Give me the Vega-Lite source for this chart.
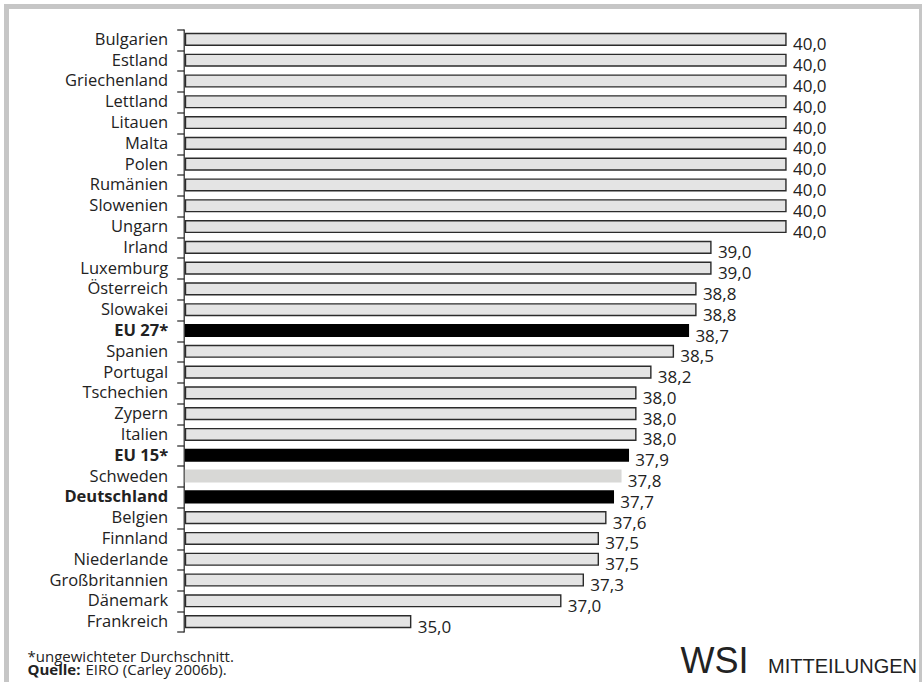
{
  "$schema": "https://vega.github.io/schema/vega-lite/v6.json",
  "width": 915,
  "height": 679.5,
  "autosize": {"type": "none"},
  "padding": {"left": 6.5, "top": 6.5, "right": 0, "bottom": 0},
  "background": "white",
  "config": {
    "font": "Open Sans",
    "view": {"stroke": "#c6c6c6", "strokeWidth": 5},
    "locale": {"number": {"decimal": ",", "thousands": ".", "grouping": [3], "currency": ["", " €"]}}
  },
  "title": {
    "text": "MITTEILUNGEN",
    "orient": "top",
    "anchor": "end",
    "frame": "group",
    "offset": 0,
    "baseline": "alphabetic",
    "dy": 686,
    "dx": -4.5,
    "font": "Liberation Sans",
    "fontSize": 20,
    "fontWeight": "normal",
    "color": "#222222"
  },
  "data": {
    "values": [
      {"land": "Bulgarien", "stunden": 40.0, "gruppe": "Land"},
      {"land": "Estland", "stunden": 40.0, "gruppe": "Land"},
      {"land": "Griechenland", "stunden": 40.0, "gruppe": "Land"},
      {"land": "Lettland", "stunden": 40.0, "gruppe": "Land"},
      {"land": "Litauen", "stunden": 40.0, "gruppe": "Land"},
      {"land": "Malta", "stunden": 40.0, "gruppe": "Land"},
      {"land": "Polen", "stunden": 40.0, "gruppe": "Land"},
      {"land": "Rumänien", "stunden": 40.0, "gruppe": "Land"},
      {"land": "Slowenien", "stunden": 40.0, "gruppe": "Land"},
      {"land": "Ungarn", "stunden": 40.0, "gruppe": "Land"},
      {"land": "Irland", "stunden": 39.0, "gruppe": "Land"},
      {"land": "Luxemburg", "stunden": 39.0, "gruppe": "Land"},
      {"land": "Österreich", "stunden": 38.8, "gruppe": "Land"},
      {"land": "Slowakei", "stunden": 38.8, "gruppe": "Land"},
      {"land": "EU 27*", "stunden": 38.7, "gruppe": "EU-Durchschnitt"},
      {"land": "Spanien", "stunden": 38.5, "gruppe": "Land"},
      {"land": "Portugal", "stunden": 38.2, "gruppe": "Land"},
      {"land": "Tschechien", "stunden": 38.0, "gruppe": "Land"},
      {"land": "Zypern", "stunden": 38.0, "gruppe": "Land"},
      {"land": "Italien", "stunden": 38.0, "gruppe": "Land"},
      {"land": "EU 15*", "stunden": 37.9, "gruppe": "EU-Durchschnitt"},
      {"land": "Schweden", "stunden": 37.8, "gruppe": "Schweden"},
      {"land": "Deutschland", "stunden": 37.7, "gruppe": "Deutschland"},
      {"land": "Belgien", "stunden": 37.6, "gruppe": "Land"},
      {"land": "Finnland", "stunden": 37.5, "gruppe": "Land"},
      {"land": "Niederlande", "stunden": 37.5, "gruppe": "Land"},
      {"land": "Großbritannien", "stunden": 37.3, "gruppe": "Land"},
      {"land": "Dänemark", "stunden": 37.0, "gruppe": "Land"},
      {"land": "Frankreich", "stunden": 35.0, "gruppe": "Land"}
    ]
  },
  "layer": [
    {
      "mark": {"type": "bar", "strokeWidth": 1.4},
      "encoding": {
        "y": {
          "field": "land",
          "type": "nominal",
          "sort": null,
          "scale": {"type": "band", "paddingInner": 0.437, "paddingOuter": 0.2185, "range": [22.5, 625.5]},
          "axis": {
            "title": "Quelle:",
            "titleX": -156.7,
            "titleY": 668,
            "titleAngle": 0,
            "titleAlign": "left",
            "titleBaseline": "alphabetic",
            "titleFont": "Open Sans",
            "titleFontSize": 15,
            "titleFontWeight": "bold",
            "titleColor": "#222222",
            "offset": -177.2,
            "domain": true,
            "domainColor": "#222222",
            "domainWidth": 1.2,
            "grid": false,
            "bandPosition": 0,
            "tickOffset": -4.3,
            "tickExtra": false,
            "tickSize": 7,
            "tickColor": "#222222",
            "tickWidth": 1.2,
            "labelPadding": 9,
            "labelFont": "Open Sans",
            "labelFontSize": 16.5,
            "labelColor": "#222222",
            "labelBaseline": "alphabetic",
            "labelOffset": 9.3,
            "labelFontWeight": {
              "condition": {"test": "indexof(['EU 27*','EU 15*','Deutschland'], datum.value) >= 0", "value": "bold"},
              "value": "normal"
            }
          }
        },
        "x": {
          "field": "stunden",
          "type": "quantitative",
          "scale": {"domain": [29.615, 41.806], "nice": false, "zero": false},
          "axis": {
            "title": "*ungewichteter Durchschnitt.",
            "titleX": 20.5,
            "titleY": -25,
            "titleAlign": "left",
            "titleBaseline": "alphabetic",
            "titleFont": "Open Sans",
            "titleFontSize": 15,
            "titleFontWeight": "normal",
            "titleColor": "#222222",
            "labels": false,
            "ticks": false,
            "domain": false,
            "grid": false
          }
        },
        "x2": {"datum": 32},
        "fill": {
          "field": "gruppe",
          "type": "nominal",
          "scale": {"domain": ["Land", "EU-Durchschnitt", "Deutschland", "Schweden"], "range": ["#e4e4e4", "#000000", "#000000", "#d8d8d6"]},
          "legend": null
        },
        "stroke": {
          "field": "gruppe",
          "type": "nominal",
          "scale": {"domain": ["Land", "EU-Durchschnitt", "Deutschland", "Schweden"], "range": ["#2b2b2b", "#000000", "#000000", "#d8d8d6"]},
          "legend": null
        }
      }
    },
    {
      "mark": {"type": "text", "align": "left", "baseline": "alphabetic", "dx": 7, "dy": 11, "fontSize": 17, "color": "#222222", "font": "Open Sans"},
      "encoding": {
        "y": {
          "field": "land",
          "type": "nominal",
          "sort": null,
          "scale": {"type": "band", "paddingInner": 0.437, "paddingOuter": 0.2185, "range": [22.5, 625.5]},
          "axis": {
            "orient": "left",
            "offset": -177.2,
            "values": ["Frankreich"],
            "bandPosition": 1,
            "tickOffset": 4.3,
            "tickSize": 7,
            "tickColor": "#222222",
            "tickWidth": 1.2,
            "title": "WSI",
            "titleX": 496.3,
            "titleY": 665.5,
            "titleAngle": 0,
            "titleAlign": "left",
            "titleBaseline": "alphabetic",
            "titleFont": "Liberation Sans",
            "titleFontSize": 36,
            "titleFontWeight": "normal",
            "titleColor": "#222222",
            "labels": false,
            "ticks": true,
            "domain": false,
            "grid": false
          }
        },
        "x": {
          "field": "stunden",
          "type": "quantitative",
          "axis": {
            "orient": "top",
            "title": "EIRO (Carley 2006b).",
            "titleX": 78.5,
            "titleY": 668,
            "titleAlign": "left",
            "titleBaseline": "alphabetic",
            "titleFont": "Open Sans",
            "titleFontSize": 15,
            "titleFontWeight": "normal",
            "titleColor": "#222222",
            "labels": false,
            "ticks": false,
            "domain": false,
            "grid": false
          }
        },
        "text": {"field": "stunden", "type": "quantitative", "format": ".1f"}
      }
    }
  ],
  "resolve": {"axis": {"x": "independent", "y": "independent"}}
}
